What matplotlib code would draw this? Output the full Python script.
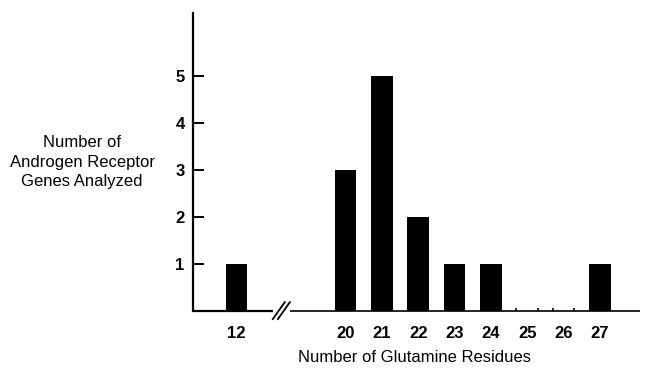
import numpy as np
import matplotlib
import matplotlib.pyplot as plt

matplotlib.rcParams.update({
    'font.family': ['Liberation Sans', 'DejaVu Sans'],
    'font.size': 12,
})

# data
residues = ['12', '20', '21', '22', '23', '24', '25', '26', '27']
genes = [1, 3, 5, 2, 1, 1, 0, 0, 1]
# slot on the broken axis (12 sits before the break)
slots = [0, 3, 4, 5, 6, 7, 8, 9, 10]
y_ticks = [1, 2, 3, 4, 5]

bar_w = 0.6
x_min, x_max = -1.2, 11.1
gap = (1.0, 1.47)

fig = plt.figure(figsize=(6.45, 3.73), dpi=100)
ax = fig.add_axes([0.299, 0.166, 0.693, 0.799])

ax.bar(slots, genes, width=bar_w, color='black')

# zero-count slots show just little edge marks on the axis
for s, g in zip(slots, genes):
    if g == 0:
        ax.vlines([s - bar_w / 2, s + bar_w / 2], 0, 0.06, color='black', lw=1.2)

ax.set_xlim(x_min, x_max)
ax.set_ylim(0, 6.34)

for side in ['top', 'right', 'bottom']:
    ax.spines[side].set_visible(False)
ax.spines['left'].set_linewidth(1.6)

# broken x axis
ax.plot([x_min, gap[0]], [0, 0], color='black', lw=1.6, clip_on=False, solid_capstyle='butt')
ax.plot([gap[1], x_max], [0, 0], color='black', lw=1.2, clip_on=False, solid_capstyle='butt')
for dx in [0.0, 0.14]:
    ax.plot([gap[0] + dx, gap[0] + dx + 0.33], [-0.17, 0.19], color='black', lw=1.3, clip_on=False)

ax.set_xticks(slots)
ax.set_xticklabels(residues, fontweight='bold')
ax.tick_params(axis='x', length=0, pad=11, labelsize=12)
ax.set_yticks(y_ticks)
ax.set_yticklabels([str(v) for v in y_ticks], fontweight='bold')
ax.tick_params(axis='y', direction='in', length=8, width=1.4, pad=6, labelsize=12)

fig.text(414 / 645, 1 - 358 / 373, 'Number of Glutamine Residues',
         ha='center', va='center', fontsize=12)
fig.text(82 / 645, 1 - 162 / 373, 'Number of\nAndrogen Receptor\nGenes Analyzed',
         ha='center', va='center', fontsize=12, linespacing=1.4)

plt.savefig('out.png', dpi=100)
